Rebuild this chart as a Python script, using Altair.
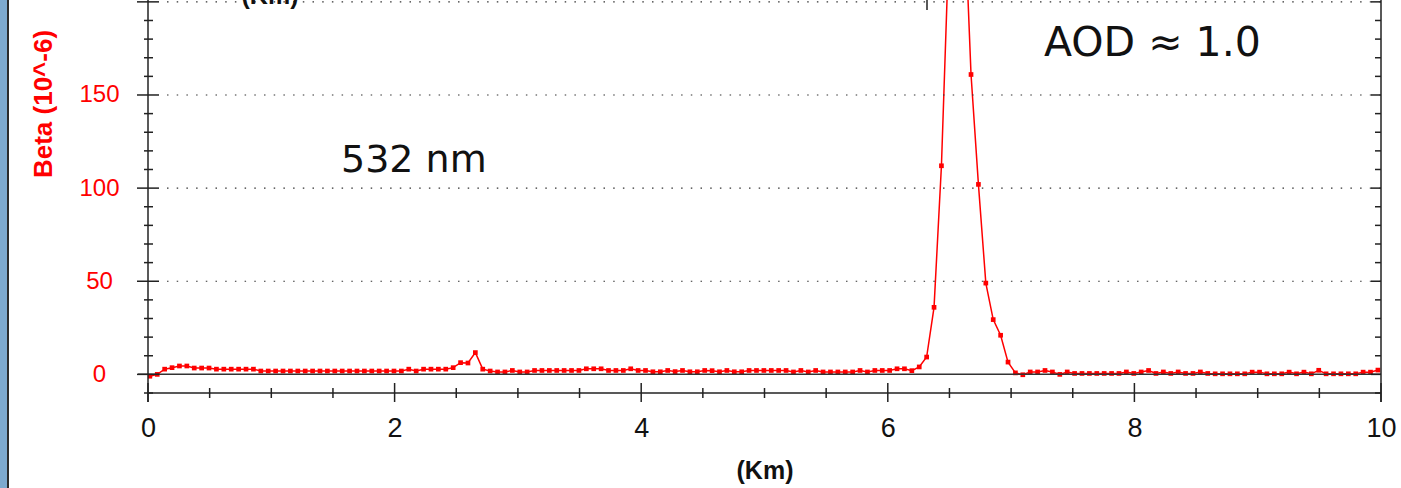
import altair as alt
import pandas as pd

# ---- data ----
beta = [
    -1.0, 0.0, 2.8, 3.6, 4.5, 4.5, 3.4, 3.4, 3.4, 2.8,
    2.8, 2.8, 2.8, 2.8, 2.8, 1.8, 1.8, 1.8, 1.8, 1.8,
    1.8, 1.8, 1.8, 1.8, 1.8, 1.8, 1.8, 1.8, 1.8, 1.8,
    1.8, 1.8, 1.8, 1.8, 1.8, 2.8, 1.8, 2.8, 2.8, 2.8,
    2.8, 3.6, 6.3, 6.1, 11.7, 2.8, 1.8, 1.3, 1.3, 2.1,
    1.3, 1.3, 2.1, 2.1, 2.1, 2.1, 2.1, 2.1, 2.1, 3.0,
    3.0, 3.0, 2.1, 2.1, 2.1, 3.0, 2.1, 2.1, 1.4, 1.4,
    2.1, 1.5, 2.1, 1.4, 1.4, 2.1, 2.0, 1.4, 2.1, 1.4,
    1.4, 2.1, 2.1, 2.1, 2.1, 2.1, 2.1, 1.3, 2.1, 1.3,
    2.1, 1.3, 1.3, 1.3, 1.3, 1.3, 2.1, 1.3, 2.1, 2.1,
    2.1, 3.0, 3.0, 2.0, 4.0, 9.3, 36.0, 112.0, 230.0, 290.0,
    260.0, 161.0, 102.0, 49.0, 29.4, 21.0, 6.6, 0.8, -0.2, 1.3,
    1.3, 2.1, 1.3, 0.0, 1.3, 0.5, 0.5, 0.5, 0.5, 0.5,
    0.5, 0.5, 1.3, 0.5, 1.3, 2.1, 0.5, 1.3, 0.5, 1.3,
    0.5, 0.5, 1.3, 0.5, 0.3, 0.3, 0.3, 0.3, 0.3, 1.2,
    1.2, 0.3, 0.3, 0.3, 1.2, 0.3, 1.2, 0.3, 2.2, 0.3,
    0.3, 0.3, 0.3, 0.3, 1.2, 1.2, 2.3,
]
km_start = 0.015   # first range gate (km)
km_step = 0.06     # range resolution (km)

x_label_vals = [0, 2, 4, 6, 8, 10]
x_minor_vals = [0.5, 1, 1.5, 2.5, 3, 3.5, 4.5, 5, 5.5, 6.5, 7, 7.5, 8.5, 9, 9.5]
y_label_vals = [0, 50, 100, 150]
y_major_vals = [0, 50, 100, 150, 200]
y_minor_vals = [-10, 10, 20, 30, 40, 60, 70, 80, 90, 110, 120, 130, 140,
                160, 170, 180, 190]
grid_vals = [50, 100, 150, 200]

W, H = 1233, 393

df = pd.DataFrame({
    "km": [round(km_start + km_step * i, 3) for i in range(len(beta))],
    "beta": beta,
})
dummy = pd.DataFrame({"k": [0]})

xs = alt.Scale(domain=[0, 10], nice=False, zero=False)
ys = alt.Scale(domain=[-10, 201], nice=False, zero=False)

x_axis = alt.Axis(values=x_label_vals, labelFontSize=27, labelColor="#111111",
                  labelFont="Liberation Sans", labelPadding=35, labelBaseline="middle",
                  ticks=False, tickSize=0, domain=False, grid=False, title=None,
                  labelFlush=False, labelOverlap=False)
y_axis = alt.Axis(values=y_label_vals, labelFontSize=24, labelColor="#ff0000",
                  labelFont="Liberation Sans", labelPadding=49, labelAlign="center",
                  labelBaseline="middle", ticks=False, tickSize=0, domain=False,
                  grid=False, title=None, labelFlush=False, labelOverlap=False)


def X(field):
    return alt.X(field, scale=xs, axis=x_axis)


def Y(field):
    return alt.Y(field, scale=ys, axis=y_axis)


# left decorative bar
bar = alt.Chart(dummy).mark_rect(color="#7da9ce").encode(
    x=alt.value(-148), x2=alt.value(-141), y=alt.value(0), y2=alt.value(H + 95))
bar_edge = alt.Chart(dummy).mark_rule(color="#2b2b2b", strokeWidth=2).encode(
    x=alt.value(-140), y=alt.value(0), y2=alt.value(H + 95))

# dotted grid
grid = alt.Chart(pd.DataFrame({"v": grid_vals})).mark_rule(
    color="#333333", strokeWidth=1.2, strokeDash=[1.5, 8.2]).encode(
    y=Y("v:Q"), x=alt.value(19), x2=alt.value(W))

zero_line = alt.Chart(pd.DataFrame({"v": [0]})).mark_rule(
    color="#333333", strokeWidth=1.5).encode(
    y=Y("v:Q"), x=alt.value(-10), x2=alt.value(W))

# axis frame lines
left_line = alt.Chart(dummy).mark_rule(color="#222222", strokeWidth=1.5).encode(
    x=alt.value(0), y=alt.value(0), y2=alt.value(402))
right_line = alt.Chart(dummy).mark_rule(color="#222222", strokeWidth=1.5).encode(
    x=alt.value(W), y=alt.value(0), y2=alt.value(402))
bottom_line = alt.Chart(dummy).mark_rule(color="#222222", strokeWidth=1.5).encode(
    y=alt.value(H), x=alt.value(0), x2=alt.value(W))

# ticks
x_major = alt.Chart(pd.DataFrame({"v": x_label_vals})).mark_rule(
    color="#222222", strokeWidth=1.5).encode(
    x=X("v:Q"), y=alt.value(383), y2=alt.value(402))
x_minor = alt.Chart(pd.DataFrame({"v": x_minor_vals})).mark_rule(
    color="#222222", strokeWidth=1.5).encode(
    x=X("v:Q"), y=alt.value(388), y2=alt.value(398))
y_major = alt.Chart(pd.DataFrame({"v": y_major_vals})).mark_rule(
    color="#222222", strokeWidth=1.5).encode(
    y=Y("v:Q"), x=alt.value(-11), x2=alt.value(11))
y_minor = alt.Chart(pd.DataFrame({"v": y_minor_vals})).mark_rule(
    color="#222222", strokeWidth=1.5).encode(
    y=Y("v:Q"), x=alt.value(-4), x2=alt.value(5))
r_major = alt.Chart(pd.DataFrame({"v": y_major_vals})).mark_rule(
    color="#222222", strokeWidth=1.5).encode(
    y=Y("v:Q"), x=alt.value(W - 10), x2=alt.value(W))
r_minor = alt.Chart(pd.DataFrame({"v": y_minor_vals})).mark_rule(
    color="#222222", strokeWidth=1.5).encode(
    y=Y("v:Q"), x=alt.value(W - 6), x2=alt.value(W))

# data
line = alt.Chart(df).mark_line(color="#ff0000", strokeWidth=1.5, clip=True).encode(
    x=X("km:Q"), y=Y("beta:Q"))
points = alt.Chart(df).mark_point(shape="square", filled=True, size=22,
                                  color="#ff0000", opacity=1, clip=True).encode(
    x=X("km:Q"), y=Y("beta:Q"))

# texts
y_title = alt.Chart(dummy).mark_text(text="Beta (10^-6)", angle=270, color="#ff0000",
                                     font="Liberation Sans", fontWeight="bold",
                                     fontSize=26, align="center", baseline="middle").encode(
    x=alt.value(-104), y=alt.value(104))
x_title = alt.Chart(dummy).mark_text(text="(Km)", color="#111111", font="Liberation Sans",
                                     fontWeight="bold", fontSize=25, align="center",
                                     baseline="middle").encode(
    x=alt.value(617), y=alt.value(471))
top_title = alt.Chart(dummy).mark_text(text="(Km)", color="#111111", font="Liberation Sans",
                                       fontWeight="bold", fontSize=25, align="center",
                                       baseline="alphabetic").encode(
    x=alt.value(122), y=alt.value(4))
top_tick = alt.Chart(dummy).mark_rule(color="#222222", strokeWidth=1.5).encode(
    x=alt.value(779), y=alt.value(0), y2=alt.value(10))
label_532 = alt.Chart(dummy).mark_text(text="532 nm", color="#111111", font="DejaVu Sans",
                                       fontSize=38, align="left", baseline="alphabetic").encode(
    x=alt.value(193), y=alt.value(172))
label_aod = alt.Chart(dummy).mark_text(text="AOD \u2248 1.0", color="#111111",
                                       font="DejaVu Sans", fontSize=41, align="left",
                                       baseline="alphabetic").encode(
    x=alt.value(896), y=alt.value(56))

chart = alt.layer(
    line, points,
    bar, bar_edge, grid, zero_line, bottom_line, left_line, right_line,
    x_major, x_minor, y_major, y_minor, r_major, r_minor,
    y_title, x_title, top_title, top_tick, label_532, label_aod,
).properties(
    width=W, height=H,
    padding={"left": 148, "top": 0, "right": 20, "bottom": 95},
    autosize=alt.AutoSizeParams(type="none"),
    background="white",
).configure_view(stroke=None)

chart.save("out.html", embed_options={"renderer": "svg", "actions": False})
